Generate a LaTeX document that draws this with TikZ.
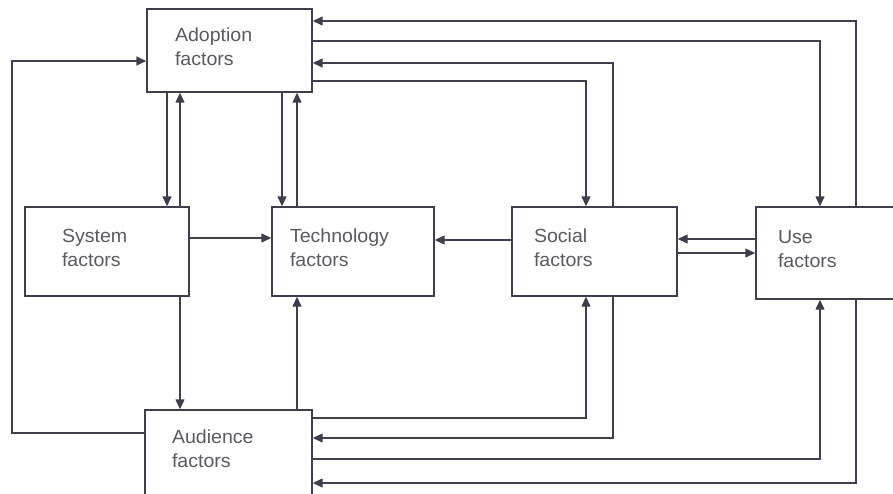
\documentclass[tikz,border=0pt]{standalone}
\usepackage{fontspec}
\setmainfont[FakeStretch=1.03]{Liberation Sans}
\usetikzlibrary{arrows.meta}
\definecolor{ln}{HTML}{3E3E4C}
\definecolor{tx}{HTML}{5A5A60}
\begin{document}
\begin{tikzpicture}[x=1pt,y=-1pt,
  box/.style={draw=ln,line width=1.4pt,fill=white,inner xsep=0pt,inner ysep=0pt,
    align=left,text=tx,text height=0pt,text depth=19pt,font=\fontsize{19}{24}\selectfont},
  arr/.style={draw=ln,line width=1.4pt,-{Triangle[length=10pt,width=9pt]}}]
\useasboundingbox (0,0) rectangle (893,493);
% boxes
\node[box,minimum width=165pt,minimum height=83pt,text width=109pt] (adopt) at (229.5,50.5) {Adoption\\factors};
\node[box,minimum width=164pt,minimum height=89pt,text width=90pt] (sys) at (107,251.5) {System\\factors};
\node[box,minimum width=162pt,minimum height=89pt,text width=126pt] (tech) at (353,251.5) {Technology\\factors};
\node[box,minimum width=165pt,minimum height=89pt,text width=121pt] (social) at (594.5,251.5) {Social\\factors};
\node[box,minimum width=146pt,minimum height=92pt,text width=102pt] (use) at (829,253) {Use\\factors};
\node[box,minimum width=167pt,minimum height=86pt,text width=113pt] (aud) at (228.5,453) {Audience\\factors};
% guide coordinates
\coordinate (xa) at (167,0);
\coordinate (xb) at (180,0);
\coordinate (xc) at (282,0);
\coordinate (xd) at (297,0);
\coordinate (xe) at (586,0);
\coordinate (xf) at (613,0);
\coordinate (xg) at (820,0);
\coordinate (xh) at (856,0);
\coordinate (xl) at (12,0);
\coordinate (y1) at (0,21);
\coordinate (y2) at (0,41);
\coordinate (y3) at (0,63);
\coordinate (y4) at (0,81);
\coordinate (y5) at (0,61);
\coordinate (y6) at (0,433);
\coordinate (yst) at (0,238);
\coordinate (yso) at (0,240);
\coordinate (yus) at (0,239);
\coordinate (ysu) at (0,253);
\coordinate (ya1) at (0,418);
\coordinate (ya2) at (0,438);
\coordinate (ya3) at (0,459);
\coordinate (ya4) at (0,483);
% connectors
\draw[arr] (use.north -| xh) |- (adopt.east |- y1);
\draw[arr] (adopt.east |- y2) -| (use.north -| xg);
\draw[arr] (social.north -| xf) |- (adopt.east |- y3);
\draw[arr] (adopt.east |- y4) -| (social.north -| xe);
\draw[arr] (aud.west |- y6) -| (xl |- y5) -- (adopt.west |- y5);
\draw[arr] (adopt.south -| xa) -- (sys.north -| xa);
\draw[arr] (sys.north -| xb) -- (adopt.south -| xb);
\draw[arr] (adopt.south -| xc) -- (tech.north -| xc);
\draw[arr] (tech.north -| xd) -- (adopt.south -| xd);
\draw[arr] (sys.east |- yst) -- (tech.west |- yst);
\draw[arr] (social.west |- yso) -- (tech.east |- yso);
\draw[arr] (use.west |- yus) -- (social.east |- yus);
\draw[arr] (social.east |- ysu) -- (use.west |- ysu);
\draw[arr] (sys.south -| xb) -- (aud.north -| xb);
\draw[arr] (aud.north -| xd) -- (tech.south -| xd);
\draw[arr] (aud.east |- ya1) -| (social.south -| xe);
\draw[arr] (social.south -| xf) |- (aud.east |- ya2);
\draw[arr] (aud.east |- ya3) -| (use.south -| xg);
\draw[arr] (use.south -| xh) |- (aud.east |- ya4);
\end{tikzpicture}
\end{document}
